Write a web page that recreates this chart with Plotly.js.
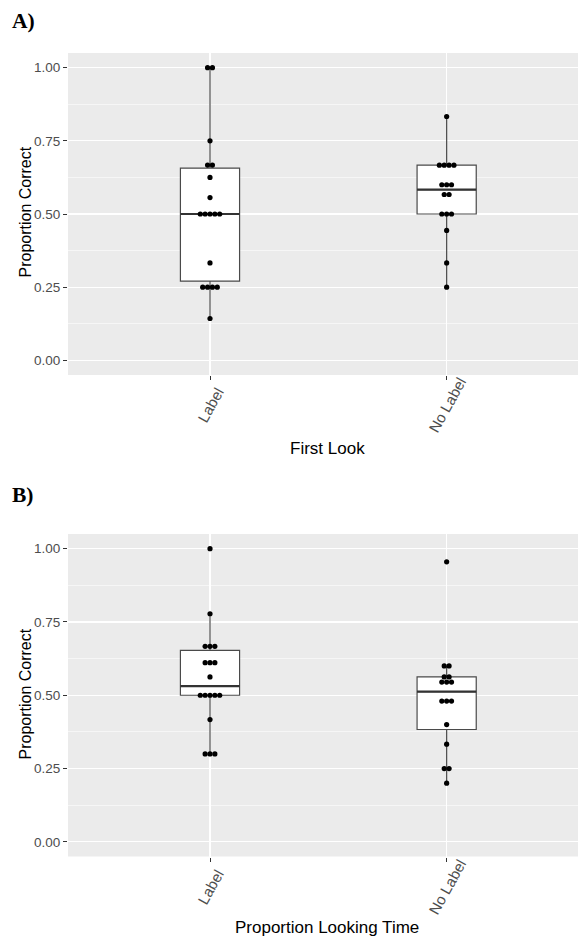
<!DOCTYPE html>
<html>
<head>
<meta charset="utf-8">
<script src="https://cdn.plot.ly/plotly-3.0.1.min.js"></script>
<style>html,body{margin:0;padding:0;background:#fff;}#chart{width:578px;height:938px;}</style>
</head>
<body>
<div id="chart"></div>
<script>
// ---- data ----
const categories = ['Label', 'No Label'];
const panelTitles = ['A)', 'B)'];
const xTitles = ['First Look', 'Proportion Looking Time'];
const yTitle = 'Proportion Correct';
const yTickVals = [0, 0.25, 0.5, 0.75, 1.0];
const yTickText = ['0.00', '0.25', '0.50', '0.75', '1.00'];

// Panel A: First Look
const firstLookLabel = [1.0, 1.0, 0.75, 0.667, 0.667, 0.625, 0.556, 0.5, 0.5, 0.5, 0.5, 0.5, 0.333, 0.25, 0.25, 0.25, 0.25, 0.143];
const firstLookNoLabel = [0.833, 0.6667, 0.6667, 0.6667, 0.6667, 0.6, 0.6, 0.6, 0.5667, 0.5667, 0.5, 0.5, 0.5, 0.444, 0.333, 0.25];
// Panel B: Proportion Looking Time
const lookTimeLabel = [1.0, 0.778, 0.667, 0.667, 0.667, 0.611, 0.611, 0.611, 0.5625, 0.5, 0.5, 0.5, 0.5, 0.5, 0.417, 0.3, 0.3, 0.3];
const lookTimeNoLabel = [0.955, 0.6, 0.6, 0.5625, 0.5625, 0.545, 0.545, 0.545, 0.48, 0.48, 0.48, 0.4, 0.333, 0.25, 0.25, 0.2];

// ---- helpers ----
function quantile7(arr, p) {
  const s = arr.slice().sort((a, b) => a - b);
  const h = (s.length - 1) * p;
  const lo = Math.floor(h), hi = Math.ceil(h);
  return s[lo] + (h - lo) * (s[hi] - s[lo]);
}
function stats(arr) {
  const q1 = quantile7(arr, 0.25), med = quantile7(arr, 0.5), q3 = quantile7(arr, 0.75);
  const iqr = q3 - q1;
  const upLim = q3 + 1.5 * iqr + 1e-9, loLim = q1 - 1.5 * iqr - 1e-9;
  const inside = arr.filter(v => v <= upLim && v >= loLim);
  return {q1, med, q3, lo: Math.min(...inside), hi: Math.max(...inside)};
}
const DOT_SPACING = 0.0205;
function dotPositions(arr, xc) {
  const groups = {};
  arr.forEach(v => { const k = v.toFixed(4); (groups[k] = groups[k] || []).push(v); });
  const xs = [], ys = [];
  Object.values(groups).forEach(g => {
    const n = g.length;
    g.forEach((v, i) => { xs.push(xc + (i - (n - 1) / 2) * DOT_SPACING); ys.push(v); });
  });
  return {xs, ys};
}

const BOX_W = 0.25;
const panels = [
  {series: [firstLookLabel, firstLookNoLabel], xa: 'x', ya: 'y'},
  {series: [lookTimeLabel, lookTimeNoLabel], xa: 'x2', ya: 'y2'}
];

const traces = [];
panels.forEach(p => {
  const st = p.series.map(stats);
  traces.push({
    type: 'box', x: [1, 2],
    q1: st.map(s => s.q1), median: st.map(s => s.med), q3: st.map(s => s.q3),
    lowerfence: st.map(s => s.lo), upperfence: st.map(s => s.hi),
    width: BOX_W, whiskerwidth: 0, boxpoints: false,
    fillcolor: '#FFFFFF', line: {color: '#4a4a4a', width: 1.2},
    xaxis: p.xa, yaxis: p.ya, hoverinfo: 'skip', showlegend: false
  });
  st.forEach((s, i) => {
    traces.push({
      type: 'scatter', mode: 'lines',
      x: [i + 1 - BOX_W / 2, i + 1 + BOX_W / 2], y: [s.med, s.med],
      line: {color: '#333333', width: 2.2},
      xaxis: p.xa, yaxis: p.ya, hoverinfo: 'skip', showlegend: false
    });
  });
  p.series.forEach((arr, i) => {
    const d = dotPositions(arr, i + 1);
    traces.push({
      type: 'scatter', mode: 'markers', x: d.xs, y: d.ys,
      marker: {color: '#000000', size: 5.2},
      xaxis: p.xa, yaxis: p.ya, showlegend: false
    });
  });
});

const W = 578, H = 938;
const py = v => 1 - v / H;
const xDomain = [68 / W, 1];
const xRange = [0.4, 2.555];

function xAxis(anchor) {
  return {
    domain: xDomain, range: xRange, anchor: anchor,
    tickvals: [1, 2], ticktext: categories, showticklabels: false,
    ticks: 'outside', ticklen: 4, tickwidth: 1, tickcolor: '#333333',
    showgrid: true, gridcolor: '#FFFFFF', gridwidth: 1.1,
    zeroline: false, showline: false, automargin: false, fixedrange: true
  };
}
function yAxis(domain, anchor) {
  return {
    domain: domain, range: [-0.05, 1.05], anchor: anchor,
    tickvals: yTickVals, ticktext: yTickText,
    ticks: 'outside', ticklen: 4, tickwidth: 1, tickcolor: '#333333',
    tickfont: {family: 'Liberation Sans, Arial, sans-serif', size: 13.5, color: '#4D4D4D'},
    showgrid: true, gridcolor: '#FFFFFF', gridwidth: 1.1,
    minor: {tickvals: [0.125, 0.375, 0.625, 0.875], showgrid: true, gridcolor: '#FFFFFF', gridwidth: 0.55, ticks: ''},
    zeroline: false, showline: false, automargin: false, fixedrange: true
  };
}

const titleFont = {family: 'Liberation Sans, Arial, sans-serif', size: 17, color: '#000000'};
const yTitleFont = {family: 'Liberation Sans, Arial, sans-serif', size: 16, color: '#000000'};
const tickFontX = {family: 'Liberation Sans, Arial, sans-serif', size: 15, color: '#4D4D4D'};
const panelFont = {family: 'Liberation Serif, Times New Roman, serif', size: 21.5, color: '#000000', weight: 'bold'};

const annotations = [
  {text: '<b>' + panelTitles[0] + '</b>', x: 10 / W, y: py(21.5), xref: 'paper', yref: 'paper', xanchor: 'left', yanchor: 'middle', showarrow: false, font: panelFont},
  {text: '<b>' + panelTitles[1] + '</b>', x: 10 / W, y: py(495.5), xref: 'paper', yref: 'paper', xanchor: 'left', yanchor: 'middle', showarrow: false, font: panelFont},
  {text: xTitles[0], x: 327 / W, y: py(448), xref: 'paper', yref: 'paper', xanchor: 'center', yanchor: 'middle', showarrow: false, font: titleFont},
  {text: xTitles[1], x: 327 / W, y: py(927), xref: 'paper', yref: 'paper', xanchor: 'center', yanchor: 'middle', showarrow: false, font: titleFont},
  {text: yTitle, x: 24.5 / W, y: py(212), xref: 'paper', yref: 'paper', xanchor: 'center', yanchor: 'middle', textangle: -90, showarrow: false, font: yTitleFont},
  {text: yTitle, x: 24.5 / W, y: py(694), xref: 'paper', yref: 'paper', xanchor: 'center', yanchor: 'middle', textangle: -90, showarrow: false, font: yTitleFont}
];
// rotated category labels, centred under each tick (as in the reference)
[['x', 405], ['x2', 887]].forEach(([xr, yc]) => {
  categories.forEach((c, i) => {
    annotations.push({text: c, x: i + 1, xref: xr, y: py(yc), yref: 'paper',
      xanchor: 'center', yanchor: 'middle', textangle: -61, showarrow: false, font: tickFontX});
  });
});

const layout = {
  width: W, height: H,
  margin: {l: 0, r: 0, t: 0, b: 0, pad: 0},
  paper_bgcolor: '#FFFFFF', plot_bgcolor: '#EBEBEB',
  showlegend: false, boxmode: 'overlay',
  xaxis: xAxis('y'),
  yaxis: yAxis([py(375), py(53)], 'x'),
  xaxis2: xAxis('y2'),
  yaxis2: yAxis([py(856.5), py(534)], 'x2'),
  annotations: annotations
};

Plotly.newPlot('chart', traces, layout, {staticPlot: true, displayModeBar: false});
</script>
</body>
</html>
